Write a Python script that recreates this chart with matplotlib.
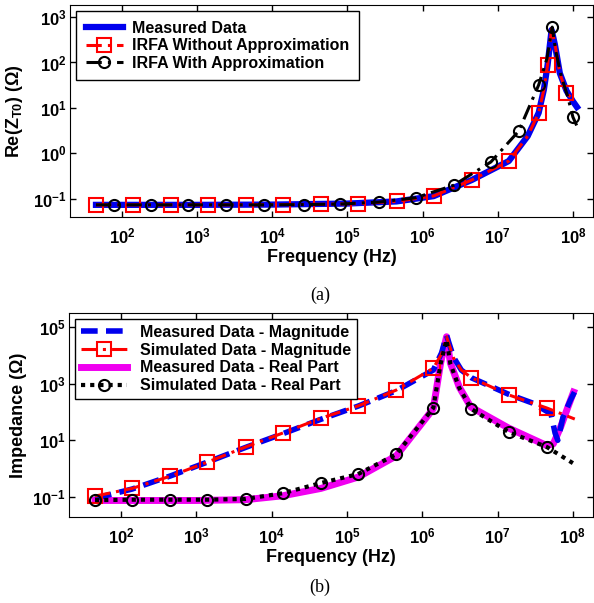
import numpy as np
import matplotlib
matplotlib.use('Agg')
import matplotlib.pyplot as plt
from matplotlib.ticker import FixedLocator, FuncFormatter, NullLocator

plt.rcParams['font.family'] = ['Liberation Sans', 'DejaVu Sans']
plt.rcParams['font.weight'] = 'bold'
plt.rcParams['mathtext.fontset'] = 'custom'
plt.rcParams['mathtext.rm'] = 'Liberation Sans:bold'
plt.rcParams['mathtext.it'] = 'Liberation Sans:bold'
plt.rcParams['mathtext.bf'] = 'Liberation Sans:bold'
plt.rcParams['mathtext.default'] = 'rm'

# ---- panel (a): Re(Z_T0) ----
f_a_meas = [45, 1e3, 1e4, 1e5, 4.5e5, 1.4e6, 4.5e6, 1.4e7, 2.5e7, 3.5e7, 4.1e7, 4.6e7,
            4.9e7, 5.2e7, 5.75e7, 6.7e7, 8.2e7, 1e8, 1.13e8]
z_a_meas = [0.074, 0.074, 0.075, 0.079, 0.088, 0.115, 0.26, 0.68, 2.4, 7.8, 25, 88,
            220, 520, 250, 58, 24, 14, 10.5]

f_a_irfa = [45, 140, 450, 1400, 4500, 1.4e4, 4.5e4, 1.4e5, 4.5e5, 1.4e6, 4.5e6, 1.4e7,
            2.5e7, 3.5e7, 4.1e7, 4.6e7, 4.9e7, 5.2e7, 5.75e7, 6.7e7, 8.2e7, 9.5e7]
z_a_irfa = [0.074, 0.074, 0.074, 0.074, 0.074, 0.075, 0.076, 0.079, 0.088, 0.116, 0.26, 0.68,
            2.4, 7.8, 25, 88, 220, 560, 260, 58, 21, 17]
mk_a_irfa = [45, 140, 450, 1400, 4500, 1.4e4, 4.5e4, 1.4e5, 4.5e5, 1.4e6, 4.5e6, 1.4e7,
             3.5e7, 4.6e7, 8.2e7]

f_a_appr = [45, 78, 245, 760, 2400, 7700, 2.6e4, 8e4, 2.6e5, 8.1e5, 2.6e6, 8.1e6, 1.9e7,
            3.5e7, 4.5e7, 5.3e7, 5.9e7, 7e7, 8.5e7, 1e8, 1.13e8]
z_a_appr = [0.074, 0.074, 0.074, 0.074, 0.074, 0.074, 0.075, 0.077, 0.085, 0.106, 0.2, 0.65, 3.1,
            32, 120, 600, 180, 50, 18, 6.3, 4]
mk_a_appr = [78, 245, 760, 2400, 7700, 2.6e4, 8e4, 2.6e5, 8.1e5, 2.6e6, 8.1e6, 1.9e7,
             3.5e7, 5.3e7, 1e8]

# ---- panel (b): impedance ----
f_b_mag = [45, 140, 450, 1400, 4500, 1.4e4, 4.5e4, 1.4e5, 4.5e5, 1.4e6, 1.8e6, 2.1e6, 2.6e6,
           3.3e6, 4.5e6, 1.4e7, 3e7, 4.5e7, 5.1e7, 5.8e7, 6.3e7, 7.4e7, 9.3e7, 1.05e8]
z_b_mag = [0.09, 0.19, 0.55, 1.7, 5.6, 17, 55, 160, 560, 3000, 12000, 50000, 8500,
           3000, 1600, 420, 200, 105, 90, 18, 10, 66, 265, 500]

f_b_sim = [45, 140, 450, 1400, 4500, 1.4e4, 4.5e4, 1.4e5, 4.5e5, 1.4e6, 1.8e6, 2.1e6, 2.6e6,
           3.3e6, 4.5e6, 1.4e7, 4.5e7, 1.06e8]
z_b_sim = [0.107, 0.2, 0.54, 1.7, 5.8, 18, 60, 162, 590, 3500, 11000, 45000, 8000,
           3000, 1600, 400, 138, 56]
mk_b_sim = [45, 140, 450, 1400, 4500, 1.4e4, 4.5e4, 1.4e5, 4.5e5, 1.4e6, 4.5e6, 1.4e7, 4.5e7]

f_b_re = [45, 1e3, 4.5e3, 1.4e4, 4.5e4, 1.4e5, 4.5e5, 1.4e6, 1.75e6, 2.1e6, 2.36e6, 3.1e6,
          4.4e6, 1.4e7, 4.5e7, 5.5e7, 6.9e7, 8.6e7, 1.02e8]
z_b_re = [0.075, 0.075, 0.08, 0.11, 0.2, 0.5, 2.8, 130, 5300, 45000, 5300, 750,
          150, 27, 6.5, 7.5, 30, 150, 500]

f_b_rsim = [45, 140, 450, 1400, 4500, 1.4e4, 4.5e4, 1.4e5, 4.5e5, 1.4e6, 1.75e6, 2.1e6, 2.36e6,
            3.1e6, 4.5e6, 1.4e7, 4.5e7, 1e8]
z_b_rsim = [0.077, 0.08, 0.08, 0.08, 0.085, 0.135, 0.31, 0.64, 3.2, 138, 5000, 35000, 5000,
            700, 126, 19.5, 5.8, 1.56]
mk_b_rsim = [45, 140, 450, 1400, 4500, 1.4e4, 4.5e4, 1.4e5, 4.5e5, 1.4e6, 4.5e6, 1.4e7, 4.5e7]


def every(f, mk):
  return list(np.nonzero(np.isin(f, mk))[0])


def style_axis(ax, yticks, ylim):
  ax.set_xscale('log')
  ax.set_yscale('log')
  ax.set_xlim(20.3, 1.85e8)
  ax.set_ylim(*ylim)
  ax.xaxis.set_major_locator(FixedLocator([10.0 ** k for k in range(2, 9)]))
  ax.yaxis.set_major_locator(FixedLocator(yticks))
  ax.xaxis.set_minor_locator(NullLocator())
  ax.yaxis.set_minor_locator(NullLocator())
  fmt = FuncFormatter(lambda v, p: r'$10^{%d}$' % int(round(np.log10(v))))
  ax.xaxis.set_major_formatter(fmt)
  ax.yaxis.set_major_formatter(fmt)
  ax.tick_params(direction='in', top=True, right=True, length=4, width=1, labelsize=12)
  ax.tick_params(axis='x', pad=7)
  ax.tick_params(axis='y', pad=2.5)
  ax.set_xlabel('Frequency (Hz)', fontsize=13, fontweight='bold', labelpad=2)


def add_legend(ax, hl, tp, ls, bp):
  leg = ax.legend(loc='upper left', fontsize=11.5, fancybox=False, framealpha=1,
                  edgecolor='black', handlelength=hl, handletextpad=tp, labelspacing=ls,
                  borderaxespad=0.4, borderpad=bp, numpoints=1)
  leg.get_frame().set_linewidth(1)


fig = plt.figure(figsize=(5.94, 6.03), dpi=100)

# (a)
ax1 = fig.add_axes([70 / 594, 1 - 217 / 603, 523 / 594, 212 / 603])
ax1.plot(f_a_meas, z_a_meas, color='#0000EE', lw=4.5, label='Measured Data', zorder=2)
ax1.plot(f_a_irfa, z_a_irfa, color='red', lw=2.2, dashes=(5, 2, 1, 2),
         marker='s', ms=10, mfc='none', mec='red', mew=1.5,
         markevery=every(f_a_irfa, mk_a_irfa), label='IRFA Without Approximation', zorder=3)
ax1.plot(f_a_appr, z_a_appr, color='black', lw=2.2, dashes=(5, 2, 1, 2),
         marker='o', ms=8, mfc='none', mec='black', mew=1.5,
         markevery=every(f_a_appr, mk_a_appr), label='IRFA With Approximation', zorder=4)
style_axis(ax1, [10.0 ** k for k in range(-1, 4)], (0.040, 1837))
ax1.set_ylabel('Re(Z$_{T0}$) (Ω)', fontsize=13, fontweight='bold')
ax1.yaxis.set_label_coords(-0.086, 0.5)
add_legend(ax1, 2.3, 0.6, 0.15, 0.6)
fig.text(320 / 594, 1 - 295 / 603, '(a)', family='Liberation Serif', fontweight='normal',
         fontsize=13, ha='center', va='center')

# (b)
ax2 = fig.add_axes([69 / 594, 1 - 517 / 603, 524 / 594, 204 / 603])
ax2.plot(f_b_mag, z_b_mag, color='#0000EE', lw=4, dashes=(3, 1.5),
         label='Measured Data - Magnitude', zorder=3)
ax2.plot(f_b_sim, z_b_sim, color='red', lw=2.2, dashes=(5, 2, 1, 2),
         marker='s', ms=10, mfc='none', mec='red', mew=1.5,
         markevery=every(f_b_sim, mk_b_sim), label='Simulated Data - Magnitude', zorder=4)
ax2.plot(f_b_re, z_b_re, color='#F000F0', lw=5, label='Measured Data - Real Part', zorder=2)
ax2.plot(f_b_rsim, z_b_rsim, color='black', lw=3, dashes=(1, 1.2),
         marker='o', ms=8, mfc='none', mec='black', mew=1.5,
         markevery=every(f_b_rsim, mk_b_rsim), label='Simulated Data - Real Part', zorder=5)
style_axis(ax2, [10.0 ** k for k in range(-1, 6, 2)], (0.0196, 3.1e5))
ax2.set_ylabel('Impedance (Ω)', fontsize=13, fontweight='bold')
ax2.yaxis.set_label_coords(-0.080, 0.5)
add_legend(ax2, 2.9, 0.8, 0.17, 0.35)
fig.text(320 / 594, 1 - 587 / 603, '(b)', family='Liberation Serif', fontweight='normal',
         fontsize=13, ha='center', va='center')

fig.savefig('out.png', dpi=100)
